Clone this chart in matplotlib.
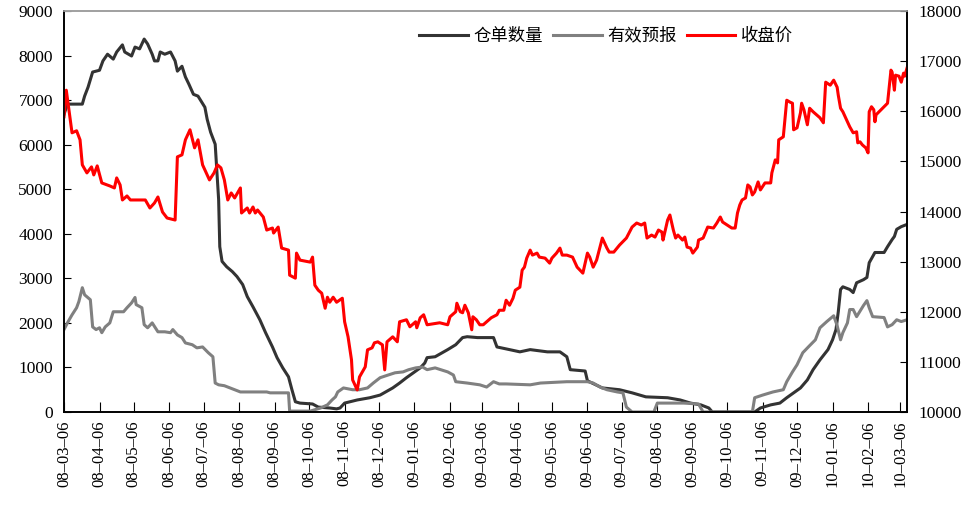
import pandas as pd
import matplotlib
matplotlib.use("Agg")
import matplotlib.pyplot as plt
import matplotlib.dates as mdates

plt.rcParams['font.family'] = ['Liberation Serif', 'Noto Sans CJK SC']

# 仓单数量 (left axis)
wr_dates = ["2008-03-06", "2008-03-09", "2008-03-22", "2008-03-24", "2008-03-27", "2008-03-31",
            "2008-04-06", "2008-04-09", "2008-04-13", "2008-04-18", "2008-04-21", "2008-04-26",
            "2008-04-28", "2008-05-04", "2008-05-07", "2008-05-11", "2008-05-15", "2008-05-18",
            "2008-05-22", "2008-05-24", "2008-05-27", "2008-05-29", "2008-06-02", "2008-06-07",
            "2008-06-11", "2008-06-13", "2008-06-17", "2008-06-20", "2008-06-23", "2008-06-27",
            "2008-07-01", "2008-07-07", "2008-07-09", "2008-07-12", "2008-07-16", "2008-07-19",
            "2008-07-20", "2008-07-22", "2008-07-26", "2008-07-31", "2008-08-04", "2008-08-09",
            "2008-08-13", "2008-08-18", "2008-08-24", "2008-08-29", "2008-09-04", "2008-09-08",
            "2008-09-13", "2008-09-18", "2008-09-21", "2008-09-24", "2008-09-28", "2008-10-09",
            "2008-10-14", "2008-10-24", "2008-10-30", "2008-11-02", "2008-11-06", "2008-11-17",
            "2008-11-28", "2008-12-07", "2008-12-18", "2008-12-24", "2008-12-30", "2009-01-05",
            "2009-01-11", "2009-01-15", "2009-01-17", "2009-01-24", "2009-02-04", "2009-02-11",
            "2009-02-17", "2009-02-21", "2009-03-02", "2009-03-16", "2009-03-19", "2009-03-30",
            "2009-04-08", "2009-04-17", "2009-05-02", "2009-05-13", "2009-05-19", "2009-05-22",
            "2009-06-04", "2009-06-06", "2009-06-19", "2009-07-04", "2009-07-15", "2009-07-27",
            "2009-08-15", "2009-08-26", "2009-09-04", "2009-09-13", "2009-09-20", "2009-09-23",
            "2009-10-30", "2009-11-04", "2009-11-13", "2009-11-21", "2009-11-27", "2009-12-03",
            "2009-12-09", "2009-12-15", "2009-12-20", "2009-12-26", "2010-01-02", "2010-01-06",
            "2010-01-09", "2010-01-11", "2010-01-13", "2010-01-15", "2010-01-21", "2010-01-24",
            "2010-01-27", "2010-02-02", "2010-02-05", "2010-02-07", "2010-02-12", "2010-02-20",
            "2010-02-23", "2010-02-27", "2010-03-01", "2010-03-03", "2010-03-07", "2010-03-12"]
wr_values = [6680, 6910, 6910, 7090, 7290, 7630,
             7670, 7880, 8030, 7920, 8080, 8240,
             8080, 7990, 8190, 8150, 8370, 8260,
             8030, 7880, 7880, 8080, 8030, 8080,
             7880, 7650, 7760, 7520, 7360, 7130,
             7090, 6840, 6570, 6280, 6010, 4770,
             3710, 3380, 3260, 3150, 3040, 2860,
             2590, 2360, 2070, 1780, 1460, 1220,
             990, 790, 500, 230, 200, 180,
             110, 90, 70, 90, 200, 270,
             320, 380, 540, 650, 770, 880,
             990, 1100, 1220, 1240, 1400, 1510,
             1670, 1690, 1670, 1670, 1460, 1400,
             1350, 1400, 1350, 1350, 1240, 950,
             920, 700, 540, 500, 430, 340,
             320, 270, 200, 160, 90, 0,
             0, 90, 160, 200, 320, 430,
             540, 720, 950, 1170, 1400, 1620,
             1850, 2250, 2750, 2810, 2750, 2680,
             2900, 2970, 3020, 3350, 3580, 3580,
             3710, 3870, 3940, 4100, 4160, 4210]

# 有效预报 (left axis)
fc_dates = ["2008-03-06", "2008-03-09", "2008-03-13", "2008-03-17", "2008-03-19", "2008-03-22",
            "2008-03-24", "2008-03-29", "2008-03-31", "2008-04-03", "2008-04-06", "2008-04-08",
            "2008-04-11", "2008-04-15", "2008-04-18", "2008-04-22", "2008-04-27", "2008-04-30",
            "2008-05-04", "2008-05-07", "2008-05-08", "2008-05-13", "2008-05-15", "2008-05-18",
            "2008-05-22", "2008-05-27", "2008-06-02", "2008-06-07", "2008-06-09", "2008-06-13",
            "2008-06-17", "2008-06-20", "2008-06-26", "2008-06-30", "2008-07-05", "2008-07-10",
            "2008-07-14", "2008-07-16", "2008-07-19", "2008-07-24", "2008-07-31", "2008-08-07",
            "2008-08-30", "2008-09-02", "2008-09-18", "2008-09-19", "2008-10-07", "2008-10-16",
            "2008-10-22", "2008-10-26", "2008-10-29", "2008-10-31", "2008-11-05", "2008-11-13",
            "2008-11-19", "2008-11-26", "2008-12-01", "2008-12-07", "2008-12-14", "2008-12-20",
            "2008-12-27", "2009-01-01", "2009-01-07", "2009-01-13", "2009-01-17", "2009-01-24",
            "2009-02-04", "2009-02-09", "2009-02-11", "2009-02-21", "2009-03-04", "2009-03-10",
            "2009-03-16", "2009-03-21", "2009-03-27", "2009-04-17", "2009-04-26", "2009-05-19",
            "2009-06-06", "2009-06-11", "2009-06-17", "2009-06-23", "2009-07-02", "2009-07-07",
            "2009-07-10", "2009-07-15", "2009-08-03", "2009-08-06", "2009-08-29", "2009-09-11",
            "2009-09-15", "2009-10-28", "2009-10-30", "2009-11-06", "2009-11-15", "2009-11-24",
            "2009-11-27", "2009-12-02", "2009-12-06", "2009-12-11", "2009-12-17", "2009-12-22",
            "2009-12-26", "2010-01-01", "2010-01-07", "2010-01-10", "2010-01-13", "2010-01-15",
            "2010-01-19", "2010-01-21", "2010-01-24", "2010-01-27", "2010-02-02", "2010-02-05",
            "2010-02-07", "2010-02-10", "2010-02-20", "2010-02-23", "2010-02-27", "2010-03-03",
            "2010-03-07", "2010-03-12"]
fc_values = [1850, 2000, 2180, 2340, 2480, 2790,
             2630, 2520, 1910, 1850, 1890, 1780,
             1910, 2000, 2250, 2250, 2250, 2340,
             2450, 2570, 2410, 2340, 1960, 1890,
             2000, 1800, 1800, 1780, 1850, 1730,
             1670, 1550, 1510, 1440, 1460, 1330,
             1240, 650, 610, 590, 520, 450,
             450, 430, 430, 20, 20, 90,
             160, 270, 340, 450, 540, 500,
             500, 540, 650, 770, 830, 880,
             900, 950, 990, 1010, 950, 990,
             900, 830, 680, 650, 610, 560,
             680, 630, 630, 610, 650, 680,
             680, 650, 560, 500, 450, 430,
             110, 0, 0, 200, 200, 180,
             0, 0, 320, 380, 450, 500,
             680, 900, 1060, 1330, 1490, 1620,
             1890, 2030, 2160, 1940, 1620, 1780,
             2000, 2300, 2300, 2140, 2390, 2500,
             2340, 2140, 2120, 1910, 1960, 2070,
             2030, 2070]

# 收盘价 (right axis)
px_dates = ["2008-03-06", "2008-03-08", "2008-03-13", "2008-03-17", "2008-03-20", "2008-03-22",
            "2008-03-26", "2008-03-30", "2008-04-01", "2008-04-04", "2008-04-08", "2008-04-15",
            "2008-04-19", "2008-04-21", "2008-04-24", "2008-04-26", "2008-04-30", "2008-05-03",
            "2008-05-16", "2008-05-20", "2008-05-24", "2008-05-27", "2008-05-31", "2008-06-04",
            "2008-06-11", "2008-06-13", "2008-06-17", "2008-06-20", "2008-06-24", "2008-06-28",
            "2008-07-01", "2008-07-05", "2008-07-11", "2008-07-15", "2008-07-18", "2008-07-21",
            "2008-07-24", "2008-07-27", "2008-07-30", "2008-08-02", "2008-08-07", "2008-08-08",
            "2008-08-13", "2008-08-15", "2008-08-18", "2008-08-20", "2008-08-22", "2008-08-27",
            "2008-08-30", "2008-09-04", "2008-09-05", "2008-09-09", "2008-09-12", "2008-09-18",
            "2008-09-19", "2008-09-24", "2008-09-25", "2008-09-28", "2008-10-07", "2008-10-09",
            "2008-10-11", "2008-10-14", "2008-10-17", "2008-10-20", "2008-10-22", "2008-10-24",
            "2008-10-27", "2008-10-30", "2008-11-04", "2008-11-06", "2008-11-09", "2008-11-12",
            "2008-11-13", "2008-11-17", "2008-11-19", "2008-11-24", "2008-11-26", "2008-11-30",
            "2008-12-02", "2008-12-05", "2008-12-09", "2008-12-11", "2008-12-13", "2008-12-18",
            "2008-12-22", "2008-12-24", "2008-12-30", "2009-01-02", "2009-01-07", "2009-01-08",
            "2009-01-11", "2009-01-14", "2009-01-17", "2009-01-28", "2009-02-04", "2009-02-06",
            "2009-02-11", "2009-02-12", "2009-02-15", "2009-02-17", "2009-02-19", "2009-02-22",
            "2009-02-25", "2009-02-26", "2009-03-01", "2009-03-04", "2009-03-07", "2009-03-10",
            "2009-03-14", "2009-03-19", "2009-03-21", "2009-03-25", "2009-03-27", "2009-03-30",
            "2009-04-02", "2009-04-04", "2009-04-08", "2009-04-10", "2009-04-12", "2009-04-14",
            "2009-04-17", "2009-04-19", "2009-04-23", "2009-04-25", "2009-04-30", "2009-05-04",
            "2009-05-06", "2009-05-10", "2009-05-13", "2009-05-15", "2009-05-19", "2009-05-24",
            "2009-05-28", "2009-06-02", "2009-06-06", "2009-06-08", "2009-06-11", "2009-06-14",
            "2009-06-17", "2009-06-19", "2009-06-23", "2009-06-25", "2009-06-29", "2009-07-04",
            "2009-07-10", "2009-07-15", "2009-07-19", "2009-07-23", "2009-07-26", "2009-07-28",
            "2009-08-01", "2009-08-04", "2009-08-07", "2009-08-10", "2009-08-11", "2009-08-15",
            "2009-08-17", "2009-08-20", "2009-08-22", "2009-08-24", "2009-08-28", "2009-08-30",
            "2009-09-01", "2009-09-04", "2009-09-06", "2009-09-10", "2009-09-11", "2009-09-15",
            "2009-09-19", "2009-09-24", "2009-09-27", "2009-09-30", "2009-10-02", "2009-10-06",
            "2009-10-10", "2009-10-13", "2009-10-15", "2009-10-17", "2009-10-19", "2009-10-22",
            "2009-10-24", "2009-10-26", "2009-10-28", "2009-10-30", "2009-11-02", "2009-11-04",
            "2009-11-08", "2009-11-13", "2009-11-14", "2009-11-17", "2009-11-19", "2009-11-20",
            "2009-11-24", "2009-11-27", "2009-11-30", "2009-12-02", "2009-12-03", "2009-12-06",
            "2009-12-09", "2009-12-10", "2009-12-12", "2009-12-15", "2009-12-17", "2009-12-20",
            "2009-12-23", "2009-12-26", "2009-12-29", "2009-12-31", "2010-01-04", "2010-01-07",
            "2010-01-10", "2010-01-11", "2010-01-13", "2010-01-15", "2010-01-19", "2010-01-21",
            "2010-01-24", "2010-01-27", "2010-01-28", "2010-01-30", "2010-02-01", "2010-02-04",
            "2010-02-06", "2010-02-07", "2010-02-09", "2010-02-11", "2010-02-12", "2010-02-13",
            "2010-02-23", "2010-02-26", "2010-02-27", "2010-03-01", "2010-03-02", "2010-03-05",
            "2010-03-07", "2010-03-09", "2010-03-10", "2010-03-12"]
px_values = [15890, 16420, 15570, 15610, 15430, 14930,
             14770, 14890, 14730, 14910, 14570, 14510,
             14470, 14670, 14530, 14230, 14310, 14230,
             14230, 14070, 14170, 14290, 13990, 13870,
             13830, 15090, 15130, 15430, 15630, 15270,
             15430, 14930, 14630, 14770, 14930, 14870,
             14630, 14230, 14370, 14270, 14470, 13970,
             14070, 13970, 14090, 13970, 14030, 13890,
             13630, 13670, 13570, 13690, 13270, 13230,
             12730, 12670, 13170, 13030, 12990, 13090,
             12530, 12430, 12370, 12070, 12290, 12190,
             12290, 12190, 12270, 11800, 11500, 11040,
             10640, 10440, 10700, 10900, 11240, 11280,
             11380, 11400, 11340, 10840, 11400, 11500,
             11400, 11800, 11840, 11700, 11800, 11680,
             11880, 11940, 11740, 11780, 11740, 11900,
             12000, 12170, 12000, 11980, 12130, 11980,
             11640, 11900, 11840, 11740, 11740, 11800,
             11880, 11940, 12030, 12030, 12230, 12130,
             12270, 12430, 12490, 12830, 12890, 13070,
             13230, 13130, 13170, 13090, 13070, 12970,
             13070, 13170, 13270, 13130, 13130, 13090,
             12890, 12770, 13170, 13090, 12890, 13030,
             13290, 13470, 13270, 13190, 13190, 13330,
             13470, 13690, 13770, 13730, 13770, 13470,
             13530, 13490, 13630, 13590, 13430, 13830,
             13930, 13630, 13470, 13530, 13430, 13490,
             13290, 13270, 13170, 13290, 13430, 13470,
             13690, 13670, 13770, 13890, 13790, 13730,
             13670, 13670, 13970, 14130, 14230, 14270,
             14530, 14490, 14330, 14390, 14590, 14430,
             14570, 14570, 14770, 15030, 14970, 15430,
             15490, 16220, 16180, 16160, 15630, 15670,
             15970, 16160, 16030, 15730, 16060, 15990,
             15930, 15870, 15770, 16580, 16520, 16620,
             16480, 16320, 16060, 15990, 15790, 15690,
             15570, 15590, 15370, 15390, 15330, 15270,
             15170, 15990, 16090, 16030, 15790, 15930,
             16160, 16820, 16780, 16420, 16720, 16700,
             16580, 16760, 16700, 16860]

# tick on the 6th of every month
month_ticks = pd.date_range("2008-03-01", "2010-03-01", freq="MS") + pd.Timedelta(days=5)

fig = plt.figure(figsize=(9.76, 5.08), dpi=100)
ax = fig.add_axes([64 / 976, 1 - 412 / 508, (907 - 64) / 976, (412 - 11) / 508])
ax2 = ax.twinx()

l1, = ax.plot(pd.to_datetime(wr_dates), wr_values, color="#333333", lw=2.2, label="仓单数量")
l2, = ax.plot(pd.to_datetime(fc_dates), fc_values, color="#808080", lw=2.2, label="有效预报")
l3, = ax2.plot(pd.to_datetime(px_dates), px_values, color="#ff0000", lw=2.2, label="收盘价")

ax.set_xlim(pd.Timestamp("2008-03-06"), pd.Timestamp("2010-03-12"))
ax.set_ylim(0, 9000)
ax2.set_ylim(10000, 18000)
ax.set_yticks(range(0, 9001, 1000))
ax2.set_yticks(range(10000, 18001, 1000))
ax.set_xticks(month_ticks)
ax.xaxis.set_major_formatter(mdates.DateFormatter("%y–%m–%d"))
for lab in ax.get_xticklabels():
    lab.set_rotation(90)

ax.tick_params(axis="y", direction="in", length=5, labelsize=12.5, pad=8)
ax2.tick_params(axis="y", direction="in", length=5, labelsize=12.5, pad=8)
ax.tick_params(axis="x", direction="in", length=7, labelsize=12, pad=6)

for a in (ax, ax2):
    a.spines["top"].set_color("#a0a0a0")
    a.spines["top"].set_linewidth(1.2)
    for s in ("left", "right", "bottom"):
        a.spines[s].set_linewidth(1.2)

ax2.legend(handles=[l1, l2, l3], loc="upper center", bbox_to_anchor=(0.643, 1.0), ncol=3,
           frameon=False, handlelength=2.8, columnspacing=0.6, handletextpad=0.3,
           prop={"family": ["Noto Sans CJK SC"], "size": 12.5})

fig.savefig("out.png", dpi=100)
